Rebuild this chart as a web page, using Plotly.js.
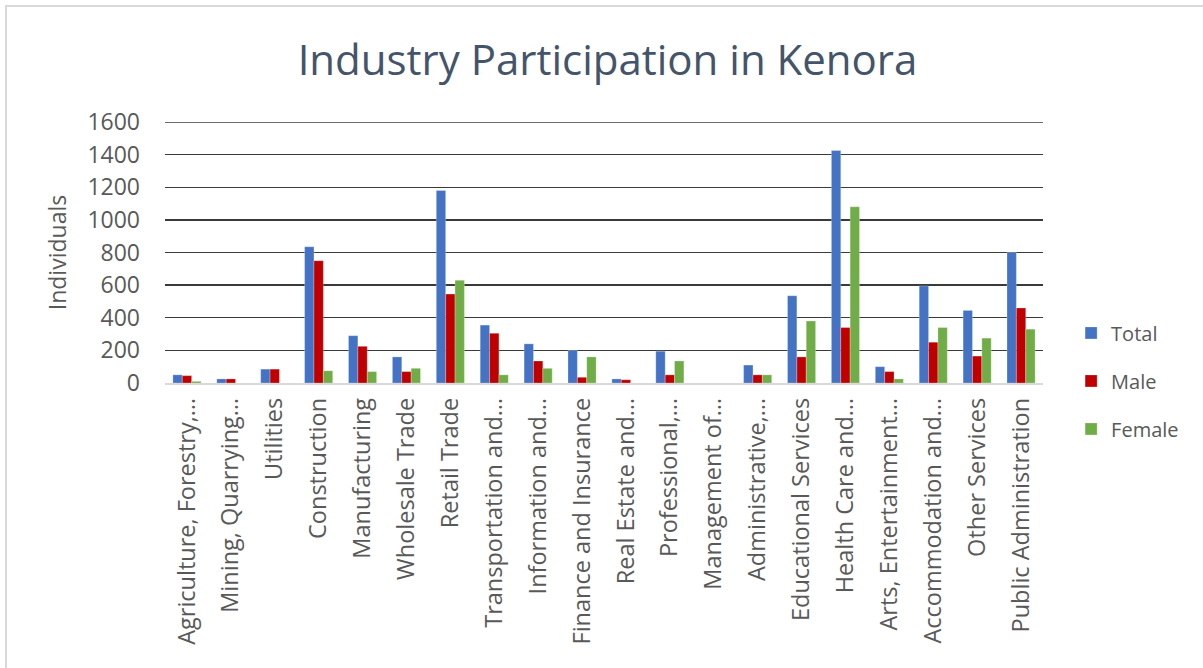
<!DOCTYPE html>
<html>
<head>
<meta charset="utf-8">
<script src="https://cdn.plot.ly/plotly-3.0.1.min.js"></script>
<style>
html,body{margin:0;padding:0;background:#fff;}
#chart{width:1203px;height:668px;}
</style>
</head>
<body>
<div id="chart"></div>
<script>
const categories = [
  "Agriculture, Forestry,…",
  "Mining, Quarrying…",
  "Utilities",
  "Construction",
  "Manufacturing",
  "Wholesale Trade",
  "Retail Trade",
  "Transportation and…",
  "Information and…",
  "Finance and Insurance",
  "Real Estate and…",
  "Professional,…",
  "Management of…",
  "Administrative,…",
  "Educational Services",
  "Health Care and…",
  "Arts, Entertainment…",
  "Accommodation and…",
  "Other Services",
  "Public Administration"
];
const totalValues  = [50, 25, 85, 835, 290, 160, 1180, 355, 240, 200, 25, 195, 0, 110, 535, 1425, 100, 595, 445, 800];
const maleValues   = [45, 25, 85, 750, 225, 70, 545, 305, 135, 35, 20, 50, 0, 50, 160, 340, 70, 250, 165, 460];
const femaleValues = [10, 0, 0, 75, 70, 90, 630, 50, 90, 160, 0, 135, 0, 50, 380, 1080, 25, 340, 275, 330];
const seriesNames  = ["Total", "Male", "Female"];
const seriesColors = ["#4472C4", "#C00000", "#70AD47"];
const yTicks = [0, 200, 400, 600, 800, 1000, 1200, 1400, 1600];

const seriesValues = [totalValues, maleValues, femaleValues];
const traces = seriesValues.map((vals, i) => ({
  type: "bar",
  name: seriesNames[i],
  x: categories,
  y: vals,
  legendgroup: "g" + i,
  marker: {color: seriesColors[i], line: {color: "rgba(255,255,255,0.5)", width: 0.5}},
  hoverinfo: "x+y+name"
}));

const fontFam = "'Open Sans', 'Noto Sans', sans-serif";
const yMax = yTicks[yTicks.length - 1];
const layout = {
  width: 1203, height: 668,
  paper_bgcolor: "#fff", plot_bgcolor: "#fff",
  margin: {l: 165, r: 160, t: 122, b: 285, pad: 0},
  title: {text: "Industry Participation in Kenora", x: 0.505, xanchor: "center", y: 0.91, yanchor: "middle",
          font: {family: fontFam, size: 42, color: "#44546A"}},
  barmode: "group",
  bargap: 0.36,
  bargroupgap: 0,
  showlegend: true,
  legend: {x: 1.032, xanchor: "left", y: 0.008, yanchor: "middle",
           font: {family: fontFam, size: 20, color: "#595959"},
           traceorder: "grouped", tracegroupgap: 19, itemwidth: 30},
  xaxis: {type: "category", tickangle: -90, tickfont: {family: fontFam, size: 23.5, color: "#595959"},
          ticklabelstandoff: 4,
          showline: true, linecolor: "#D9D9D9", linewidth: 1.5, ticks: "", showgrid: false,
          automargin: false},
  yaxis: {range: [0, yMax], tickvals: yTicks, ticktext: yTicks.map(String),
          tickfont: {family: fontFam, size: 23, color: "#595959"},
          ticklabelstandoff: 24,
          showgrid: true, gridcolor: "#3A3A3A", gridwidth: 1.3, zeroline: false,
          showline: false, ticks: "", ticklen: 0, automargin: false,
          title: {text: "Individuals", font: {family: fontFam, size: 23, color: "#595959"}, standoff: 14}},
  shapes: [
    {type: "rect", xref: "paper", yref: "paper", x0: -0.1811, x1: 2, y0: -3, y1: 1.4444,
     line: {color: "#D9D9D9", width: 2}, layer: "below"},
    {type: "line", xref: "paper", yref: "y", x0: 0, x1: 1, y0: yMax, y1: yMax,
     line: {color: "#3A3A3A", width: 1.3}, layer: "below"}
  ]
};

Plotly.newPlot("chart", traces, layout, {displayModeBar: false, staticPlot: true});
</script>
</body>
</html>
